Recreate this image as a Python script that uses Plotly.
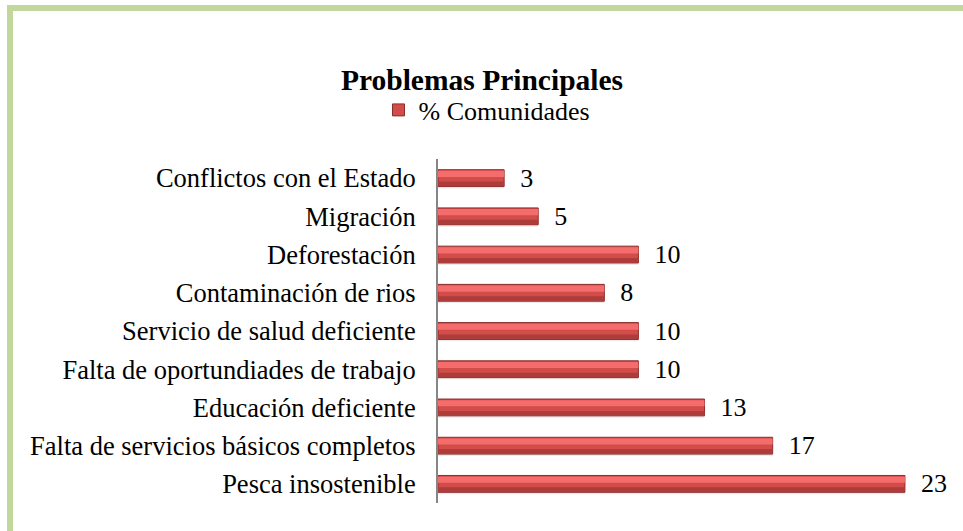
import plotly.graph_objects as go

categories = [
    "Pesca insostenible",
    "Falta de servicios básicos completos",
    "Educación deficiente",
    "Falta de oportundiades de trabajo",
    "Servicio de salud deficiente",
    "Contaminación de rios",
    "Deforestación",
    "Migración",
    "Conflictos con el Estado",
]
values = [23.3, 16.7, 13.3, 10.0, 10.0, 8.3, 10.0, 5.0, 3.3]
series_name = "% Comunidades"
title_text = "Problemas Principales"

W, H = 963, 531
ml, mr, mt, mb = 438, 24, 159, 28
pw = W - ml - mr
ph = H - mt - mb

FONT = "Liberation Serif, Times New Roman, serif"

fig = go.Figure()
# soft shadow
fig.add_trace(go.Bar(
    y=categories, x=values, orientation="h", width=0.46, offset=-0.27,
    marker=dict(color="rgba(0,0,0,0.08)", line=dict(width=0)),
    showlegend=False, hoverinfo="skip"))
# main bar
fig.add_trace(go.Bar(
    y=categories, x=values, orientation="h", width=0.44, offset=-0.22,
    name=series_name,
    marker=dict(color="#d24c4a", line=dict(color="#8a2e2c", width=1)),
    text=values, texttemplate="\u00a0\u00a0%{x:.0f}", textposition="outside",
    constraintext="none",
    textfont=dict(family=FONT, size=26, color="black"),
    cliponaxis=False))
# dark lower band
fig.add_trace(go.Bar(
    y=categories, x=values, orientation="h", width=0.12, offset=-0.21,
    marker=dict(color="#ad3c3a", line=dict(width=0)),
    showlegend=False, hoverinfo="skip"))
# highlight upper band
fig.add_trace(go.Bar(
    y=categories, x=values, orientation="h", width=0.16, offset=0.03,
    marker=dict(color="#f46c6b", line=dict(width=0)),
    showlegend=False, hoverinfo="skip"))

fig.update_layout(
    width=W, height=H,
    margin=dict(l=ml, r=mr, t=mt, b=mb, autoexpand=False),
    barmode="overlay",
    paper_bgcolor="white", plot_bgcolor="white",
    font=dict(family=FONT, size=26, color="black"),
    title=dict(text="<b>" + title_text + "</b>", x=482 / W, xref="container",
               xanchor="center", y=1 - 80 / H, yref="container", yanchor="middle",
               font=dict(family=FONT, size=29.5, color="black")),
    legend=dict(orientation="h", x=(487 - ml) / pw, xanchor="center",
                xref="paper", y=1 + (mt - 110) / ph, yanchor="middle",
                font=dict(family=FONT, size=26),
                bgcolor="rgba(0,0,0,0)"),
    xaxis=dict(range=[0, 25], visible=False, fixedrange=True),
    yaxis=dict(type="category", categoryorder="array", categoryarray=categories,
               showline=True, linecolor="#868686", linewidth=2,
               ticks="", showgrid=False, ticklabelstandoff=15, automargin=False,
               tickfont=dict(family=FONT, size=26.5)),
    shapes=[dict(type="rect", xref="paper", yref="paper",
                 x0=(10 - ml) / pw, x1=(1000 - ml) / pw,
                 y0=(H - 580 - mb) / ph, y1=(H - 8 - mb) / ph,
                 line=dict(color="#c3d69b", width=6), layer="below")],
)

fig.write_html("out.html", config={"displayModeBar": False},
               post_script="document.body.style.margin='0';")
